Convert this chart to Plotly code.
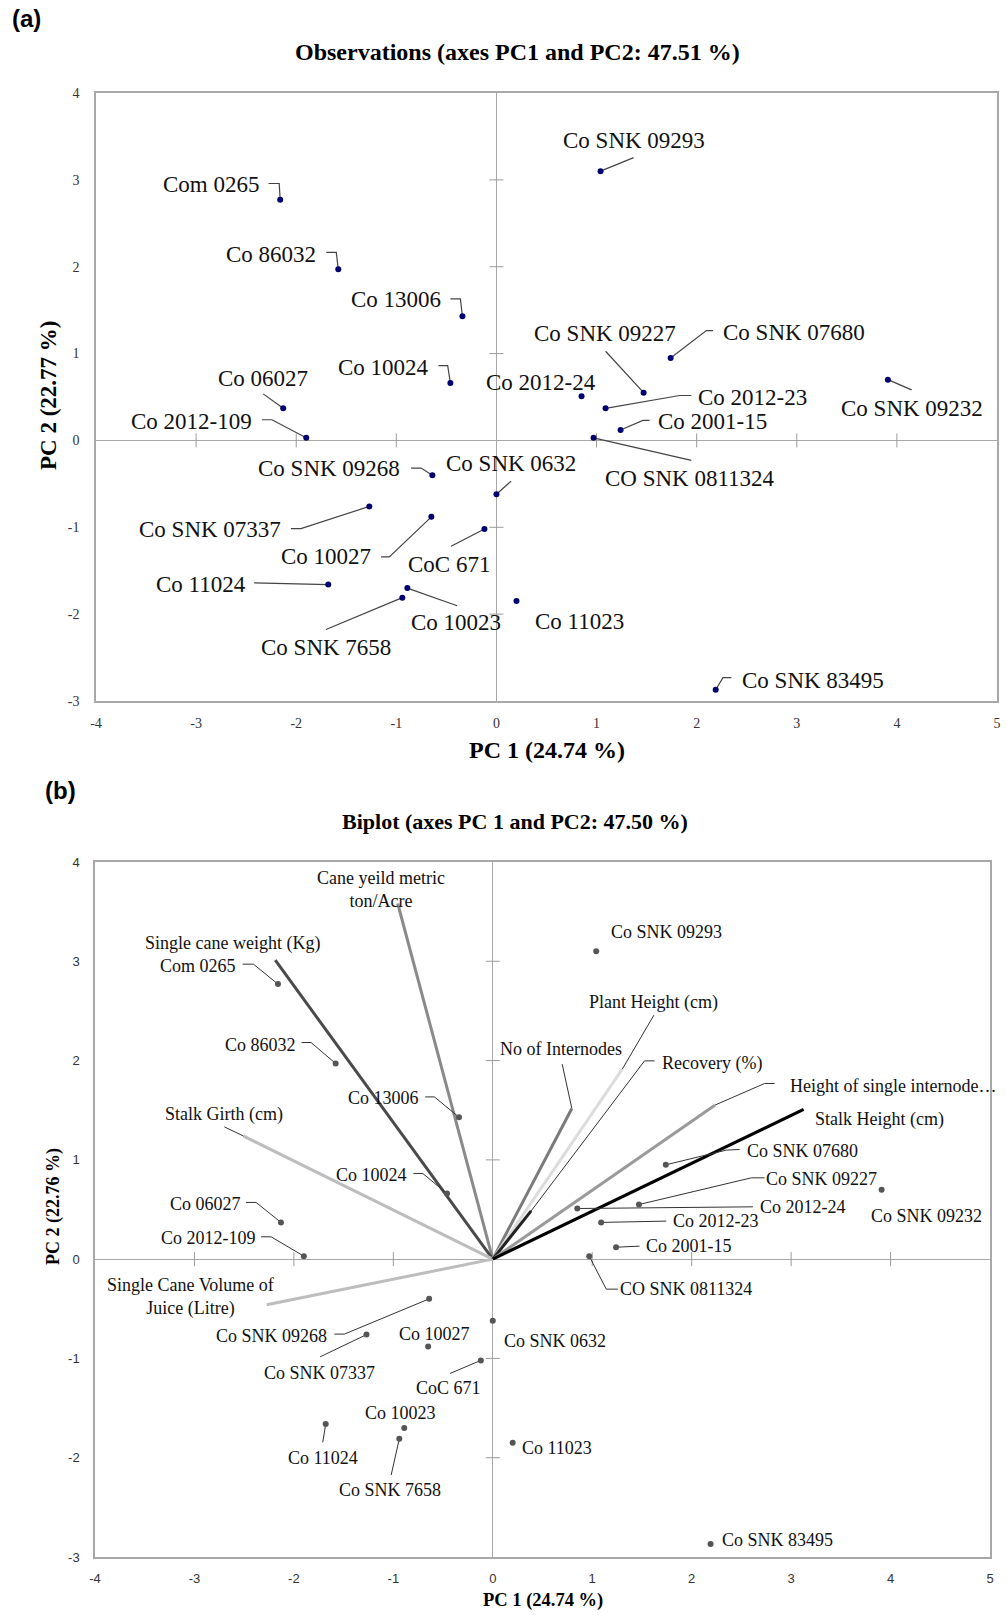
import plotly.graph_objects as go

# ---------------- data ----------------
obs_names = ["Com 0265", "Co 86032", "Co 13006", "Co 10024", "Co 06027", "Co 2012-109",
             "Co SNK 09293", "Co SNK 07680", "Co SNK 09227", "Co 2012-24", "Co 2012-23",
             "Co 2001-15", "CO SNK 0811324", "Co SNK 09232", "Co SNK 09268", "Co SNK 0632",
             "Co SNK 07337", "Co 10027", "CoC 671", "Co 11024", "Co 10023", "Co SNK 7658",
             "Co 11023", "Co SNK 83495"]
pc1 = [-2.16, -1.58, -0.34, -0.46, -2.13, -1.90, 1.04, 1.74, 1.47, 0.85, 1.09, 1.24, 0.97, 3.91,
       -0.64, 0.00, -1.27, -0.65, -0.12, -1.68, -0.89, -0.94, 0.20, 2.19]
pc2 = [2.77, 1.97, 1.43, 0.66, 0.37, 0.03, 3.10, 0.95, 0.55, 0.51, 0.37, 0.12, 0.03, 0.70,
       -0.40, -0.62, -0.76, -0.88, -1.02, -1.66, -1.70, -1.81, -1.85, -2.87]

var_names = ["Cane yeild metric<br>ton/Acre", "Single cane weight (Kg)", "Stalk Girth (cm)",
             "Single Cane Volume of<br>Juice (Litre)", "No of Internodes", "Plant Height (cm)",
             "Recovery (%)", "Height of single internode…", "Stalk Height (cm)"]
var_f1 = [-0.956, -2.187, -2.505, -2.274, 0.795, 1.302, 0.386, 2.233, 3.126]
var_f2 = [3.582, 3.011, 1.239, -0.460, 1.518, 1.913, 0.486, 1.551, 1.508]

ticks_x = [-4, -3, -2, -1, 0, 1, 2, 3, 4, 5]
ticks_y = [-3, -2, -1, 0, 1, 2, 3, 4]
ticks_x_text = [str(t) for t in ticks_x]
ticks_y_text = [str(t) for t in ticks_y]

# ---------------- label layout (annotation placement) ----------------
top_lab = {
    "Com 0265": ((-2.85, 2.95), [(-2.277, 2.958), (-2.17, 2.958)]),
    "Co 86032": ((-2.25, 2.146), [(-1.70, 2.165), (-1.60, 2.165)]),
    "Co 13006": ((-1.00, 1.617), [(-0.46, 1.63), (-0.36, 1.63)]),
    "Co 10024": ((-1.13, 0.843), [(-0.58, 0.862), (-0.487, 0.862)]),
    "Co 06027": ((-2.33, 0.716), [(-2.33, 0.536)]),
    "Co 2012-109": ((-3.05, 0.222), [(-2.343, 0.238), (-2.243, 0.238)]),
    "Co SNK 09293": ((1.37, 3.45), [(1.37, 3.256)]),
    "Co SNK 09227": ((1.08, 1.226), [(1.09, 1.027)]),
    "Co SNK 07680": ((2.97, 1.245), [(2.163, 1.264), (2.097, 1.264)]),
    "Co 2012-24": ((0.447, 0.67), []),
    "Co 2012-23": ((2.56, 0.498), [(1.947, 0.517), (1.83, 0.517)]),
    "Co 2001-15": ((2.163, 0.222), [(1.53, 0.23), (1.463, 0.23)]),
    "Co SNK 09232": ((4.147, 0.372), [(4.147, 0.582)]),
    "CO SNK 0811324": ((1.93, -0.44), [(1.947, -0.23)]),
    "Co SNK 09268": ((-1.67, -0.318), [(-0.853, -0.318), (-0.753, -0.318)]),
    "Co SNK 0632": ((0.15, -0.268), [(0.147, -0.468)]),
    "Co SNK 07337": ((-2.863, -1.027), [(-2.053, -1.015), (-1.953, -1.015)]),
    "Co 10027": ((-1.703, -1.341), [(-1.153, -1.341), (-1.07, -1.341)]),
    "CoC 671": ((-0.47, -1.425), [(-0.453, -1.218)]),
    "Co 11024": ((-2.953, -1.655), [(-2.42, -1.64)]),
    "Co 10023": ((-0.403, -2.096), [(-0.393, -1.904)]),
    "Co SNK 7658": ((-1.703, -2.387), [(-1.703, -2.176)]),
    "Co 11023": ((0.83, -2.088), []),
    "Co SNK 83495": ((3.163, -2.759), [(2.347, -2.732), (2.263, -2.732)]),
}
bot_lab = {
    "Com 0265": ((-2.961, 2.951), [(-2.515, 2.971), (-2.407, 2.971)]),
    "Co 86032": ((-2.337, 2.155), [(-1.922, 2.182), (-1.827, 2.182)]),
    "Co 13006": ((-1.100, 1.628), [(-0.680, 1.634), (-0.587, 1.634)]),
    "Co 10024": ((-1.217, 0.846), [(-0.798, 0.863), (-0.704, 0.863)]),
    "Co 06027": ((-2.893, 0.551), [(-2.481, 0.571), (-2.380, 0.571)]),
    "Co 2012-109": ((-2.860, 0.215), [(-2.330, 0.225), (-2.229, 0.225)]),
    "Co SNK 09293": ((1.750, 3.290), []),
    "Co SNK 07680": ((3.119, 1.088), [(2.482, 1.105), (2.348, 1.098)]),
    "Co SNK 09227": ((3.304, 0.803), [(2.733, 0.819), (2.600, 0.819)]),
    "Co 2012-24": ((3.119, 0.521), [(2.616, 0.527)]),
    "Co 2012-23": ((2.240, 0.383), [(1.744, 0.383)]),
    "Co 2001-15": ((1.969, 0.131), [(1.476, 0.131)]),
    "Co SNK 09232": ((4.360, 0.436), []),
    "CO SNK 0811324": ((1.946, -0.302), [(1.258, -0.302), (1.141, -0.302)]),
    "Co SNK 0632": ((0.621, -0.823), []),
    "Co 11023": ((0.644, -1.906), []),
    "Co SNK 83495": ((2.861, -2.830), []),
    "Co SNK 09268": ((-2.223, -0.772), [(-1.593, -0.755), (-1.492, -0.755)]),
    "Co SNK 07337": ((-1.743, -1.145), [(-1.736, -0.984)]),
    "Co 10027": ((-0.587, -0.755), []),
    "CoC 671": ((-0.443, -1.302), [(-0.429, -1.151)]),
    "Co 10023": ((-0.929, -1.554), []),
    "Co 11024": ((-1.710, -2.007), [(-1.710, -1.846)]),
    "Co SNK 7658": ((-1.032, -2.326), [(-1.022, -2.175)]),
}
var_lab = {
    "Cane yeild metric<br>ton/Acre": ((-1.120, 3.726), []),
    "Single cane weight (Kg)": ((-2.622, 3.179), []),
    "Stalk Girth (cm)": ((-2.699, 1.460), [(-2.699, 1.332)]),
    "Single Cane Volume of<br>Juice (Litre)": ((-3.036, -0.383), []),
    "No of Internodes": ((0.688, 2.112), [(0.698, 1.964)]),
    "Plant Height (cm)": ((1.617, 2.585), [(1.620, 2.457)]),
    "Recovery (%)": ((2.203, 1.971), [(1.627, 1.997), (1.526, 1.997)]),
    "Height of single internode…": ((4.024, 1.742), [(2.834, 1.769), (2.733, 1.769)]),
    "Stalk Height (cm)": ((3.890, 1.407), []),
}
var_style = {
    "Cane yeild metric<br>ton/Acre": ("#8a8a8a", 3),
    "Single cane weight (Kg)": ("#4a4a4a", 3),
    "Stalk Girth (cm)": ("#bdbdbd", 3),
    "Single Cane Volume of<br>Juice (Litre)": ("#bdbdbd", 3),
    "No of Internodes": ("#7a7a7a", 3),
    "Plant Height (cm)": ("#dcdcdc", 3),
    "Recovery (%)": ("#222222", 3),
    "Height of single internode…": ("#9a9a9a", 3),
    "Stalk Height (cm)": ("#000000", 3.2),
}

W, H = 1006, 1615
SERIF = "Liberation Serif, Times New Roman, serif"
SANS = "Liberation Sans, Arial, sans-serif"

fig = go.Figure()
annotations = []


def leader(xa, ya, path, px, py, color="#333", width=1):
    xs = [p[0] for p in path] + [px]
    ys = [p[1] for p in path] + [py]
    fig.add_trace(go.Scatter(x=xs, y=ys, xaxis=xa, yaxis=ya, mode="lines",
                             line=dict(color=color, width=width), hoverinfo="skip", showlegend=False))


def cross_ticks(xa, ya, color):
    xt = [t for t in ticks_x if t not in (0, ticks_x[0], ticks_x[-1])]
    yt = [t for t in ticks_y if t not in (0, ticks_y[0], ticks_y[-1])]
    fig.add_trace(go.Scatter(x=xt, y=[0] * len(xt), xaxis=xa, yaxis=ya, mode="markers",
                             marker=dict(symbol="line-ns", size=10, line=dict(color=color, width=1)),
                             hoverinfo="skip", showlegend=False))
    fig.add_trace(go.Scatter(x=[0] * len(yt), y=yt, xaxis=xa, yaxis=ya, mode="markers",
                             marker=dict(symbol="line-ew", size=10, line=dict(color=color, width=1)),
                             hoverinfo="skip", showlegend=False))


# ---------- top panel ----------
cross_ticks("x", "y", "#9a9a9a")
for n, x, y in zip(obs_names, pc1, pc2):
    (lx, ly), path = top_lab[n]
    if path:
        leader("x", "y", path, x, y, "#444", 1.2)
    annotations.append(dict(x=lx, y=ly, xref="x", yref="y", text=n, showarrow=False,
                            font=dict(family=SERIF, size=23, color="#111")))
fig.add_trace(go.Scatter(x=pc1, y=pc2, xaxis="x", yaxis="y", mode="markers",
                         marker=dict(color="#00006e", size=6), showlegend=False, text=obs_names))

# ---------- bottom panel ----------
cross_ticks("x2", "y2", "#9a9a9a")
for n, x, y in zip(var_names, var_f1, var_f2):
    c, w = var_style[n]
    fig.add_trace(go.Scatter(x=[0, x], y=[0, y], xaxis="x2", yaxis="y2", mode="lines",
                             line=dict(color=c, width=w), hoverinfo="skip", showlegend=False))
for n, x, y in zip(var_names, var_f1, var_f2):
    (lx, ly), path = var_lab[n]
    if path:
        leader("x2", "y2", path, x, y, "#333", 1)
    annotations.append(dict(x=lx, y=ly, xref="x2", yref="y2", text=n, showarrow=False,
                            font=dict(family=SERIF, size=18, color="#111")))
for n, x, y in zip(obs_names, pc1, pc2):
    (lx, ly), path = bot_lab[n]
    if path:
        leader("x2", "y2", path, x, y, "#333", 1)
    annotations.append(dict(x=lx, y=ly, xref="x2", yref="y2", text=n, showarrow=False,
                            font=dict(family=SERIF, size=18, color="#111")))
fig.add_trace(go.Scatter(x=pc1, y=pc2, xaxis="x2", yaxis="y2", mode="markers",
                         marker=dict(color="#555555", size=6), showlegend=False, text=obs_names))

# ---------- titles / labels ----------
def pa(x, y, text, size, family, bold=True, angle=0):
    annotations.append(dict(x=x / W, y=1 - y / H, xref="paper", yref="paper", text=f"<b>{text}</b>" if bold else text,
                            showarrow=False, textangle=angle, xanchor="center", yanchor="middle",
                            font=dict(family=family, size=size, color="#000")))

pa(26, 19, "(a)", 24, SANS)
pa(517, 52, "Observations (axes PC1 and PC2: 47.51 %)", 24, SERIF)
pa(547, 750, "PC 1 (24.74 %)", 24, SERIF)
pa(48, 396, "PC 2 (22.77 %)", 23, SERIF, angle=-90)
pa(60, 790, "(b)", 24, SANS)
pa(515, 821, "Biplot (axes PC 1 and PC2: 47.50 %)", 22, SERIF)
pa(543, 1600, "PC 1 (24.74 %)", 18.5, SERIF)
pa(53, 1207, "PC 2 (22.76 %)", 18, SERIF, angle=-90)

fig.update_layout(annotations=annotations)

ax_common = dict(showgrid=False, zeroline=True, zerolinecolor="#a8a8a8", zerolinewidth=1,
                 showline=True, linecolor="#a8a8a8", linewidth=1.5, mirror=True, ticks="",
                 automargin=False)

fig.update_layout(
    width=W, height=H, margin=dict(l=0, r=0, t=0, b=0, pad=0, autoexpand=False),
    paper_bgcolor="white", plot_bgcolor="white", showlegend=False,
    xaxis=dict(domain=[96 / W, 997 / W], range=[-4, 5], tickvals=ticks_x, ticktext=ticks_x_text, anchor="y",
               ticklabelstandoff=8,
               tickfont=dict(family=SERIF, size=14, color="#333"), **ax_common),
    yaxis=dict(domain=[1 - 701 / H, 1 - 93 / H], range=[-3, 4], tickvals=ticks_y, ticktext=ticks_y_text, anchor="x",
               ticklabelstandoff=12,
               tickfont=dict(family=SERIF, size=14, color="#333"), **ax_common),
    xaxis2=dict(domain=[95 / W, 990 / W], range=[-4, 5], tickvals=ticks_x, ticktext=ticks_x_text, anchor="y2",
                ticklabelstandoff=9,
                tickfont=dict(family=SANS, size=13, color="#333"), **ax_common),
    yaxis2=dict(domain=[1 - 1557 / H, 1 - 862 / H], range=[-3, 4], tickvals=ticks_y, ticktext=ticks_y_text, anchor="x2",
                ticklabelstandoff=11,
                tickfont=dict(family=SANS, size=13, color="#333"), **ax_common),
)

fig.write_html("out.html", config={"displayModeBar": False},
               post_script="document.body.style.margin='0';document.body.style.overflow='hidden';")
